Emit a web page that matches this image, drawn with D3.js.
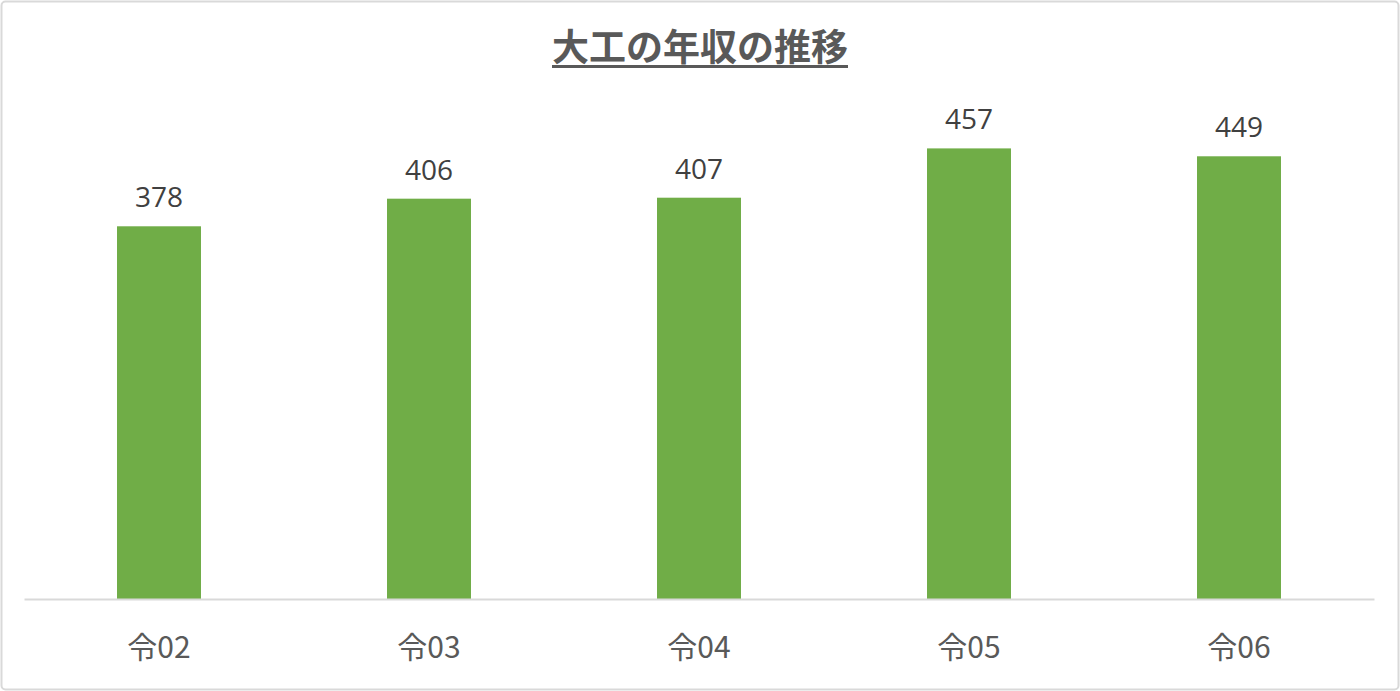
<!DOCTYPE html>
<html>
<head>
<meta charset="utf-8">
<script src="https://d3js.org/d3.v7.min.js"></script>
<style>
	body { margin: 0; background: #fff; }
	svg { display: block; }
	.title { font-family: "Noto Sans CJK JP", sans-serif; font-weight: bold; font-size: 37px; fill: #595959; }
	.label { font-family: "Open Sans", "Noto Sans", sans-serif; font-size: 28px; fill: #404040; }
	.tick text { font-family: "Noto Sans CJK JP", sans-serif; font-size: 30px; fill: #595959; }
</style>
</head>
<body>
<div id="chart"></div>
<script>
	var categories = ["令02", "令03", "令04", "令05", "令06"];
	var values = [378, 406, 407, 457, 449];
	var yMax = 500;

	var width = 1400, height = 691;
	var plot = {left: 24, right: 1374, top: 106, bottom: 599};

	var svg = d3.select("#chart").append("svg")
		.attr("width", width)
		.attr("height", height);

	// outer frame
	svg.append("rect")
		.attr("x", 1.5).attr("y", 1.5)
		.attr("width", width - 3).attr("height", height - 3)
		.attr("rx", 4)
		.attr("fill", "#fff")
		.attr("stroke", "#d9d9d9")
		.attr("stroke-width", 2);

	var x = d3.scaleBand()
		.domain(categories)
		.range([plot.left, plot.right])
		.paddingInner(0.689)
		.paddingOuter(0.3445);

	var y = d3.scaleLinear()
		.domain([0, yMax])
		.range([plot.bottom, plot.top]);

	// title
	var title = svg.append("text")
		.attr("class", "title")
		.attr("x", 700)
		.attr("y", 61)
		.attr("text-anchor", "middle")
		.text("大工の年収の推移");

	var tb = title.node().getBBox();
	svg.append("rect")
		.attr("x", tb.x)
		.attr("y", 65)
		.attr("width", tb.width)
		.attr("height", 3)
		.attr("fill", "#595959");

	svg.selectAll(".bar")
		.data(values)
		.enter()
		.append("rect")
		.attr("class", "bar")
		.attr("x", function(d, i) { return x(categories[i]); })
		.attr("y", function(d) { return y(d); })
		.attr("width", x.bandwidth())
		.attr("height", function(d) { return y(0) - y(d); })
		.attr("fill", "#70ad47");

	svg.selectAll(".label")
		.data(values)
		.enter()
		.append("text")
		.attr("class", "label")
		.attr("x", function(d, i) { return x(categories[i]) + x.bandwidth() / 2; })
		.attr("y", function(d) { return y(d) - 19; })
		.attr("text-anchor", "middle")
		.text(function(d) { return d; });

	var axis = svg.append("g")
		.attr("class", "axis")
		.attr("transform", "translate(0," + plot.bottom + ")")
		.call(d3.axisBottom(x).tickSize(0).tickPadding(38));

	axis.select(".domain")
		.attr("stroke", "#d9d9d9")
		.attr("stroke-width", 2);
	axis.selectAll(".tick text").attr("fill", "#595959");
</script>
</body>
</html>
